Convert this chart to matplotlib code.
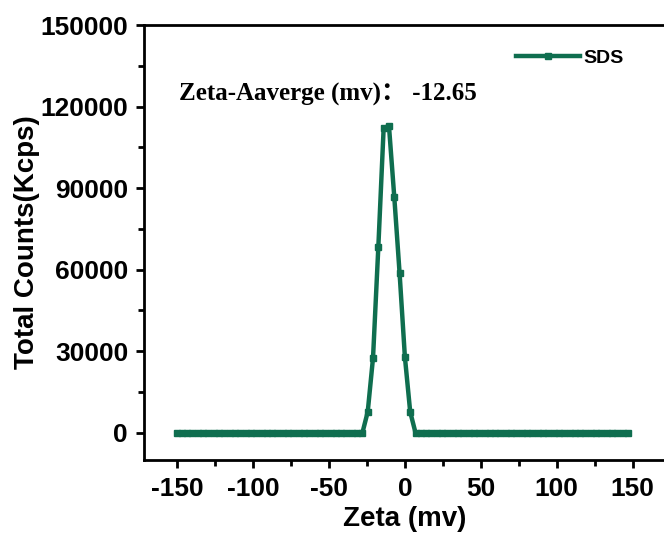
import matplotlib.pyplot as plt
from matplotlib.ticker import MultipleLocator

# zeta potential (mV) and total counts (kcps)
zeta_left = [-150.6, -147.1, -143.6, -140.1, -136.6, -133.1, -129.6, -126.1, -122.6,
             -119.1, -115.6, -112.1, -108.6, -105.1, -101.6, -98.1, -94.6, -91.1,
             -87.6, -84.1, -80.6, -77.1, -73.6, -70.1, -66.6, -63.1, -59.6, -56.1,
             -52.6, -49.1, -45.6, -42.1, -38.6, -35.1, -31.6, -28.1]
zeta_peak = [-24.6, -21.1, -17.6, -14.1, -10.6, -7.1, -3.6, -0.1, 3.4]
zeta_right = [6.9, 10.4, 13.9, 17.4, 20.9, 24.4, 27.9, 31.4, 34.9, 38.4, 41.9, 45.4,
              48.9, 52.4, 55.9, 59.4, 62.9, 66.4, 69.9, 73.4, 76.9, 80.4, 83.9, 87.4,
              90.9, 94.4, 97.9, 101.4, 104.9, 108.4, 111.9, 115.4, 118.9, 122.4,
              125.9, 129.4, 132.9, 136.4, 139.9, 143.4, 146.9]
counts_peak = [7700, 27600, 68400, 112100, 112900, 86800, 58800, 27900, 7700]

zeta = zeta_left + zeta_peak + zeta_right
counts = [0] * len(zeta_left) + counts_peak + [0] * len(zeta_right)

label = 'SDS'
note = 'Zeta-Aaverge (mv)\uff1a -12.65'
green = '#0f6e4f'

plt.rcParams['font.family'] = 'Liberation Sans'
plt.rcParams['font.weight'] = 'bold'
plt.rcParams['axes.unicode_minus'] = False

fig = plt.figure(figsize=(6.64, 5.37), dpi=100)
ax = fig.add_axes([0.217, 0.1434, 0.786, 0.81])

ax.plot(zeta, counts, '-s', color=green, lw=3.2, ms=5, label=label)

ax.set_xlim(-172, 172)
ax.set_ylim(-10000, 150000)
ax.xaxis.set_major_locator(MultipleLocator(50))
ax.xaxis.set_minor_locator(MultipleLocator(25))
ax.yaxis.set_major_locator(MultipleLocator(30000))
ax.yaxis.set_minor_locator(MultipleLocator(15000))
ax.tick_params(which='both', direction='out', width=2, labelsize=19)
ax.tick_params(axis='x', pad=6)
ax.tick_params(axis='y', pad=5.5)
ax.tick_params(which='major', length=6)
ax.tick_params(which='minor', length=4)
ax.tick_params(top=False, right=False)
for s in ax.spines.values():
    s.set_linewidth(2)

ax.set_xlabel('Zeta (mv)', fontsize=20, fontweight='bold', labelpad=4)
ax.set_ylabel('Total Counts(Kcps)', fontsize=20, fontweight='bold', labelpad=0)

ax.text(-149, 124300, note, fontsize=18, fontweight='bold', va='center',
        family=['Liberation Serif', 'Noto Sans CJK SC'])

ax.legend(loc='upper right', bbox_to_anchor=(0.952, 0.985), frameon=False,
          prop={'size': 14, 'weight': 'bold'}, handlelength=3.3, handletextpad=0.15)

fig.savefig('out.png', dpi=100)
